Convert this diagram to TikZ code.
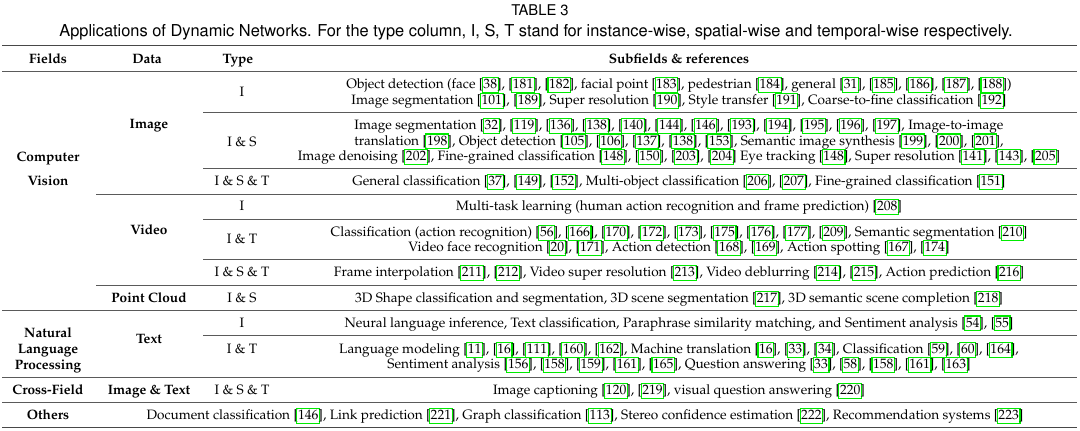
\documentclass[tikz,border=0pt]{standalone}
\usepackage[T1]{fontenc}
\renewcommand\rmdefault{ppl}
\usepackage{xcolor}
\definecolor{cg}{RGB}{0,235,0}
\definecolor{rulec}{RGB}{90,90,90}
\newsavebox\rfbox
\setlength\fboxsep{0.6pt}
\setlength\fboxrule{1.1pt}
\newcommand\rf[1]{[\sbox\rfbox{#1}\makebox[\wd\rfbox]{\textcolor{cg}{\fbox{\textcolor{black}{\vphantom{[}#1}}}}]}
\begin{document}
\begin{tikzpicture}[x=1pt,y=-1pt,
  cell/.style={anchor=base, inner sep=0pt, font=\rmfamily\fontsize{13.6}{15.5}\selectfont},
  hd/.style={cell, font=\rmfamily\bfseries\fontsize{13.6}{15.5}\selectfont},
  capt/.style={anchor=base, inner sep=0pt, font=\fontfamily{phv}\selectfont\fontsize{16.4}{18}\selectfont},
  toprule/.style={draw=rulec!80!black, line width=1.5pt},
  midrule/.style={draw=rulec, line width=0.9pt}]
\useasboundingbox (0,0) rectangle (1080,431);
% caption
\node[capt, font=\fontfamily{phv}\selectfont\fontsize{14.8}{16}\selectfont] (t0) at (540,16) {TABLE 3};
\node[capt] (t1) at (536,36) {Applications of Dynamic Networks. For the type column, I, S, T stand for instance-wise, spatial-wise and temporal-wise respectively.};
% rules
\draw[toprule] (2,45.5) -- (1077,45.5);
\draw[midrule] (2,71) -- (1077,71);
\draw[midrule] (203,112) -- (1077,112);
\draw[midrule] (203,168) -- (1077,168);
\draw[midrule] (96,194) -- (1077,194);
\draw[midrule] (203,219) -- (1077,219);
\draw[midrule] (203,259) -- (1077,259);
\draw[midrule] (96,285) -- (1077,285);
\draw[midrule] (2,310) -- (1077,310);
\draw[midrule] (203,335) -- (1077,335);
\draw[midrule] (2,377) -- (1077,377);
\draw[midrule] (2,402) -- (1077,402);
\draw[toprule] (2,427.5) -- (1077,427.5);
% header
\node[hd] (hf) at (48,63.5) {Fields};
\node[hd] (hd) at (147,63.5) {Data};
\node[hd] (ht) at (238,63.5) {Type};
\node[hd] (hs) at (679,63.5) {Subfields \& references};
% fields
\node[hd] (f1a) at (48,161.5) {Computer};
\node[hd] (f1b) at (48,185.5) {Vision};
\node[hd] (f2a) at (48,337.5) {Natural};
\node[hd] (f2b) at (48,353.5) {Language};
\node[hd] (f2c) at (48,369.5) {Processing};
\node[hd] (f3) at (48,394.5) {Cross-Field};
\node[hd] (f4) at (48,419.5) {Others};
% data
\node[hd] (d1) at (149,128.5) {Image};
\node[hd] (d2) at (149,234.5) {Video};
\node[hd] (d3) at (149,302.5) {Point Cloud};
\node[hd] (d4) at (149,343.5) {Text};
\node[hd] (d5) at (149,394.5) {Image \& Text};
% type
\node[cell] (y1) at (242,96.5) {I};
\node[cell] (y2) at (242,146.5) {I \& S};
\node[cell] (y3) at (242,185.5) {I \& S \& T};
\node[cell] (y4) at (242,210.5) {I};
\node[cell] (y5) at (242,243.5) {I \& T};
\node[cell] (y6) at (242,276.5) {I \& S \& T};
\node[cell] (y7) at (242,302.5) {I \& S};
\node[cell] (y8) at (242,327.5) {I};
\node[cell] (y9) at (242,353.5) {I \& T};
\node[cell] (y10) at (242,394.5) {I \& S \& T};
% subfields
\node[cell] (s1a) at (679,88.5) {Object detection (face \rf{38}, \rf{181}, \rf{182}, facial point \rf{183}, pedestrian \rf{184}, general \rf{31}, \rf{185}, \rf{186}, \rf{187}, \rf{188})};
\node[cell] (s1b) at (679,104.5) {Image segmentation \rf{101}, \rf{189}, Super resolution \rf{190}, Style transfer \rf{191}, Coarse-to-fine classification \rf{192}};
\node[cell] (s2a) at (679,129.5) {Image segmentation \rf{32}, \rf{119}, \rf{136}, \rf{138}, \rf{140}, \rf{144}, \rf{146}, \rf{193}, \rf{194}, \rf{195}, \rf{196}, \rf{197}, Image-to-image};
\node[cell] (s2b) at (679,145) {translation \rf{198}, Object detection \rf{105}, \rf{106}, \rf{137}, \rf{138}, \rf{153}, Semantic image synthesis \rf{199}, \rf{200}, \rf{201},};
\node[cell] (s2c) at (679,160.5) {Image denoising \rf{202}, Fine-grained classification \rf{148}, \rf{150}, \rf{203}, \rf{204} Eye tracking \rf{148}, Super resolution \rf{141}, \rf{143}, \rf{205}};
\node[cell] (s3) at (679,185.5) {General classification \rf{37}, \rf{149}, \rf{152}, Multi-object classification \rf{206}, \rf{207}, Fine-grained classification \rf{151}};
\node[cell] (s4) at (679,210.5) {Multi-task learning (human action recognition and frame prediction) \rf{208}};
\node[cell] (s5a) at (679,236.5) {Classification (action recognition) \rf{56}, \rf{166}, \rf{170}, \rf{172}, \rf{173}, \rf{175}, \rf{176}, \rf{177}, \rf{209}, Semantic segmentation \rf{210}};
\node[cell] (s5b) at (679,251.5) {Video face recognition \rf{20}, \rf{171}, Action detection \rf{168}, \rf{169}, Action spotting \rf{167}, \rf{174}};
\node[cell] (s6) at (679,276.5) {Frame interpolation \rf{211}, \rf{212}, Video super resolution \rf{213}, Video deblurring \rf{214}, \rf{215}, Action prediction \rf{216}};
\node[cell] (s7) at (679,302.5) {3D Shape classification and segmentation, 3D scene segmentation \rf{217}, 3D semantic scene completion \rf{218}};
\node[cell] (s8) at (679,327) {Neural language inference, Text classification, Paraphrase similarity matching, and Sentiment analysis \rf{54}, \rf{55}};
\node[cell] (s9a) at (679,353.5) {Language modeling \rf{11}, \rf{16}, \rf{111}, \rf{160}, \rf{162}, Machine translation \rf{16}, \rf{33}, \rf{34}, Classification \rf{59}, \rf{60}, \rf{164},};
\node[cell] (s9b) at (679,368.5) {Sentiment analysis \rf{156}, \rf{158}, \rf{159}, \rf{161}, \rf{165}, Question answering \rf{33}, \rf{58}, \rf{158}, \rf{161}, \rf{163}};
\node[cell] (s10) at (679,394.5) {Image captioning \rf{120}, \rf{219}, visual question answering \rf{220}};
\node[cell] (s11) at (585,419.5) {Document classification \rf{146}, Link prediction \rf{221}, Graph classification \rf{113}, Stereo confidence estimation \rf{222}, Recommendation systems \rf{223}};
\end{tikzpicture}
\end{document}
